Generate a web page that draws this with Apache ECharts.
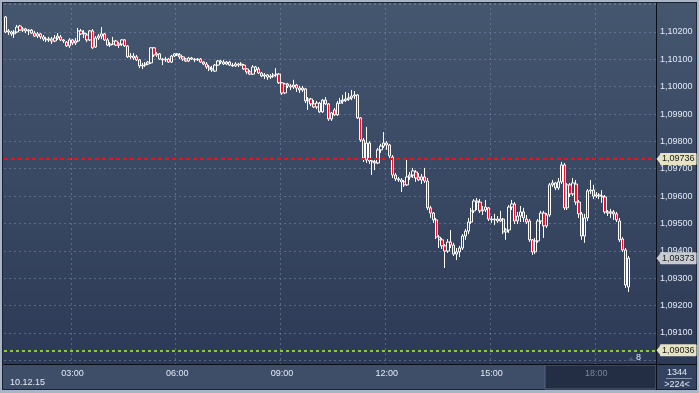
<!DOCTYPE html>
<html><head><meta charset="utf-8">
<script src="https://cdn.jsdelivr.net/npm/echarts@6/dist/echarts.min.js"></script>
<style>html,body{margin:0;padding:0;background:#a9b5c7;}#c{width:699px;height:393px;}</style>
</head><body><div id="c"></div><script>
// ---- data ----
const sessionDate = '10.12.15';
const firstBarMinutes = 65;      // 01:05
const barStepMinutes = 5;
const barSlots = 224;            // visible bar slots (>224<)
const barCountLabel = '1344';
const hourTicks = ['03:00','06:00','09:00','12:00','15:00','18:00'];
const redLevel = 1.09736;
const greenLevel = 1.09036;
const lastPrice = 1.09373;
const yMin = 1.08986, yMax = 1.10306;
const labelRange = [1.0905, 1.1025];

// [open, close, low, high]
const ohlcA = [
[1.10255,1.10200,1.10196,1.10258],[1.10200,1.10204,1.10189,1.10211],[1.10200,1.10193,1.10185,1.10204],[1.10193,1.10200,1.10178,1.10207],
[1.10200,1.10218,1.10196,1.10226],[1.10222,1.10207,1.10204,1.10226],[1.10207,1.10211,1.10200,1.10218],[1.10211,1.10204,1.10196,1.10215],
[1.10204,1.10207,1.10189,1.10211],[1.10207,1.10196,1.10193,1.10211],[1.10196,1.10185,1.10182,1.10204],[1.10185,1.10193,1.10178,1.10200],
[1.10193,1.10182,1.10174,1.10196],[1.10182,1.10174,1.10167,1.10189],[1.10174,1.10171,1.10163,1.10182],[1.10171,1.10174,1.10163,1.10182],
[1.10174,1.10167,1.10156,1.10182],[1.10167,1.10178,1.10163,1.10189],[1.10178,1.10185,1.10171,1.10196],[1.10182,1.10171,1.10167,1.10189],
[1.10171,1.10167,1.10160,1.10174],[1.10163,1.10149,1.10145,1.10167],[1.10149,1.10171,1.10142,1.10178],[1.10171,1.10160,1.10152,1.10174],
[1.10160,1.10167,1.10152,1.10178],[1.10167,1.10204,1.10163,1.10215],[1.10204,1.10193,1.10189,1.10211],[1.10193,1.10196,1.10178,1.10207],
[1.10189,1.10171,1.10163,1.10196],[1.10171,1.10204,1.10167,1.10207],[1.10204,1.10142,1.10138,1.10211],[1.10145,1.10178,1.10142,1.10185],
[1.10178,1.10185,1.10171,1.10193],[1.10185,1.10193,1.10174,1.10218],[1.10193,1.10171,1.10167,1.10196],[1.10171,1.10152,1.10149,1.10178],
[1.10152,1.10156,1.10145,1.10163],[1.10156,1.10167,1.10152,1.10182],[1.10167,1.10152,1.10149,1.10171],[1.10152,1.10156,1.10142,1.10163],
[1.10156,1.10171,1.10149,1.10174],[1.10171,1.10149,1.10145,1.10174],[1.10149,1.10109,1.10105,1.10152],[1.10109,1.10112,1.10101,1.10123],
[1.10112,1.10105,1.10098,1.10123],[1.10109,1.10098,1.10094,1.10116],[1.10098,1.10076,1.10068,1.10101],[1.10076,1.10079,1.10065,1.10087],
[1.10079,1.10083,1.10072,1.10090],[1.10083,1.10090,1.10079,1.10094]
];
const ohlcB = [
[1.10087,1.10142,1.10083,1.10145],[1.10142,1.10116,1.10109,1.10145],[1.10116,1.10120,1.10109,1.10127],[1.10120,1.10101,1.10098,1.10123],
[1.10101,1.10098,1.10079,1.10105],[1.10098,1.10101,1.10090,1.10109],[1.10101,1.10090,1.10087,1.10105],[1.10090,1.10112,1.10087,1.10116],
[1.10112,1.10120,1.10109,1.10123],[1.10120,1.10116,1.10112,1.10123],[1.10116,1.10109,1.10101,1.10123],[1.10109,1.10101,1.10094,1.10112],
[1.10101,1.10094,1.10090,1.10105],[1.10094,1.10105,1.10090,1.10109],[1.10105,1.10101,1.10098,1.10109],[1.10101,1.10098,1.10090,1.10105],
[1.10098,1.10101,1.10094,1.10105],[1.10101,1.10090,1.10087,1.10105],[1.10090,1.10083,1.10079,1.10094],[1.10083,1.10072,1.10065,1.10090],
[1.10072,1.10065,1.10057,1.10079],[1.10065,1.10061,1.10054,1.10076],[1.10057,1.10079,1.10054,1.10083],[1.10079,1.10094,1.10076,1.10098],
[1.10094,1.10090,1.10083,1.10098],[1.10090,1.10083,1.10079,1.10098],[1.10083,1.10090,1.10079,1.10094],[1.10090,1.10079,1.10076,1.10094],
[1.10079,1.10076,1.10072,1.10087],[1.10076,1.10083,1.10072,1.10090],[1.10083,1.10079,1.10072,1.10087],[1.10079,1.10083,1.10076,1.10090],
[1.10079,1.10065,1.10061,1.10083],[1.10065,1.10054,1.10046,1.10068],[1.10054,1.10046,1.10043,1.10061],[1.10046,1.10072,1.10043,1.10079],
[1.10072,1.10061,1.10054,1.10076],[1.10065,1.10050,1.10046,1.10072],[1.10050,1.10039,1.10035,1.10054],[1.10039,1.10043,1.10028,1.10050],
[1.10043,1.10035,1.10025,1.10046],[1.10035,1.10039,1.10028,1.10046],[1.10039,1.10043,1.10032,1.10050],[1.10043,1.10046,1.10035,1.10068],
[1.10046,1.10014,1.10010,1.10050],[1.10014,1.09977,1.09970,1.10017],[1.09977,1.10010,1.09973,1.10014],[1.10010,1.10003,1.09995,1.10014],
[1.10003,1.09999,1.09988,1.10010],[1.09999,1.10006,1.09992,1.10025]
];
const ohlcC = [
[1.10006,1.09995,1.09981,1.10010],[1.09995,1.09988,1.09977,1.10003],[1.09988,1.09995,1.09981,1.10003],[1.09992,1.09948,1.09940,1.09995],
[1.09948,1.09955,1.09915,1.09962],[1.09955,1.09937,1.09929,1.09959],[1.09937,1.09926,1.09922,1.09951],[1.09926,1.09940,1.09918,1.09948],
[1.09940,1.09908,1.09904,1.09944],[1.09908,1.09951,1.09904,1.09955],[1.09951,1.09937,1.09933,1.09962],[1.09937,1.09882,1.09875,1.09940],
[1.09882,1.09904,1.09875,1.09908],[1.09915,1.09897,1.09893,1.09922],[1.09897,1.09940,1.09893,1.09948],[1.09940,1.09948,1.09937,1.09959],
[1.09948,1.09951,1.09937,1.09970],[1.09951,1.09955,1.09944,1.09981],[1.09955,1.09959,1.09948,1.09977],[1.09959,1.09966,1.09951,1.09988],
[1.09966,1.09970,1.09955,1.09984],[1.09970,1.09886,1.09882,1.09973],[1.09886,1.09805,1.09798,1.09889],[1.09805,1.09739,1.09725,1.09812],
[1.09732,1.09794,1.09721,1.09853],[1.09794,1.09728,1.09717,1.09801],[1.09728,1.09725,1.09677,1.09739],[1.09725,1.09721,1.09695,1.09732],
[1.09721,1.09769,1.09717,1.09776],[1.09769,1.09783,1.09758,1.09791],[1.09783,1.09794,1.09776,1.09834],[1.09794,1.09787,1.09769,1.09801],
[1.09787,1.09747,1.09739,1.09791],[1.09743,1.09677,1.09666,1.09750],[1.09677,1.09663,1.09655,1.09684],[1.09663,1.09659,1.09652,1.09670],
[1.09659,1.09652,1.09615,1.09666],[1.09652,1.09641,1.09633,1.09659],[1.09641,1.09670,1.09637,1.09739],[1.09670,1.09677,1.09659,1.09688],
[1.09677,1.09692,1.09666,1.09703],[1.09688,1.09666,1.09652,1.09695],[1.09670,1.09659,1.09655,1.09684],[1.09659,1.09670,1.09644,1.09681],
[1.09670,1.09655,1.09648,1.09703],[1.09655,1.09557,1.09549,1.09666],[1.09557,1.09538,1.09520,1.09564],[1.09538,1.09513,1.09502,1.09542],
[1.09513,1.09450,1.09443,1.09520],[1.09450,1.09440,1.09410,1.09458]
];
const ohlcD = [
[1.09440,1.09418,1.09407,1.09447],[1.09418,1.09399,1.09337,1.09425],[1.09399,1.09432,1.09392,1.09443],[1.09432,1.09421,1.09410,1.09476],
[1.09421,1.09388,1.09381,1.09429],[1.09388,1.09396,1.09366,1.09410],[1.09396,1.09410,1.09377,1.09418],[1.09410,1.09454,1.09403,1.09461],
[1.09454,1.09472,1.09440,1.09480],[1.09472,1.09505,1.09461,1.09520],[1.09505,1.09546,1.09498,1.09557],[1.09546,1.09582,1.09538,1.09589],
[1.09582,1.09578,1.09549,1.09593],[1.09578,1.09546,1.09538,1.09589],[1.09546,1.09549,1.09531,1.09564],[1.09549,1.09560,1.09542,1.09586],
[1.09557,1.09516,1.09509,1.09560],[1.09516,1.09513,1.09502,1.09527],[1.09513,1.09516,1.09494,1.09535],[1.09516,1.09509,1.09502,1.09527],
[1.09509,1.09516,1.09505,1.09546],[1.09516,1.09469,1.09461,1.09520],[1.09469,1.09476,1.09440,1.09483],[1.09476,1.09560,1.09465,1.09567],
[1.09560,1.09571,1.09549,1.09586],[1.09571,1.09509,1.09498,1.09578],[1.09509,1.09527,1.09498,1.09542],[1.09527,1.09542,1.09505,1.09564],
[1.09542,1.09520,1.09505,1.09557],[1.09516,1.09505,1.09498,1.09531],[1.09509,1.09440,1.09432,1.09516],[1.09440,1.09396,1.09385,1.09443],
[1.09396,1.09436,1.09388,1.09447],[1.09436,1.09509,1.09429,1.09516],[1.09509,1.09538,1.09498,1.09546],[1.09538,1.09491,1.09447,1.09546],
[1.09491,1.09531,1.09483,1.09538],[1.09531,1.09641,1.09524,1.09648],[1.09641,1.09648,1.09633,1.09659],[1.09648,1.09630,1.09622,1.09652],
[1.09630,1.09652,1.09622,1.09666],[1.09652,1.09714,1.09644,1.09725],[1.09714,1.09557,1.09549,1.09721],[1.09557,1.09641,1.09549,1.09648],
[1.09641,1.09608,1.09597,1.09648],[1.09608,1.09648,1.09600,1.09666],[1.09644,1.09578,1.09567,1.09659],[1.09578,1.09535,1.09520,1.09586],
[1.09535,1.09454,1.09440,1.09542],[1.09454,1.09520,1.09429,1.09535],[1.09520,1.09619,1.09509,1.09626],[1.09619,1.09622,1.09608,1.09659],
[1.09622,1.09600,1.09589,1.09641],[1.09600,1.09604,1.09593,1.09615],[1.09604,1.09600,1.09589,1.09611],[1.09600,1.09597,1.09575,1.09622],
[1.09597,1.09542,1.09535,1.09604],[1.09542,1.09538,1.09527,1.09549],[1.09538,1.09542,1.09520,1.09553],[1.09542,1.09535,1.09513,1.09549],
[1.09535,1.09513,1.09505,1.09542],[1.09509,1.09440,1.09432,1.09520],[1.09443,1.09403,1.09396,1.09450],[1.09403,1.09275,1.09264,1.09410],
[1.09268,1.09373,1.09249,1.09381]
];
const ohlc = ohlcA.concat(ohlcB, ohlcC, ohlcD);

const categories = [];
for (let i = 0; i < barSlots; i++) {
  const m = firstBarMinutes + i * barStepMinutes;
  categories.push(String(Math.floor(m / 60)).padStart(2, '0') + ':' + String(m % 60).padStart(2, '0'));
}

// ---- chart ----
const FONT = 'Liberation Sans, Arial, sans-serif';
const fmt = v => v.toFixed(5).replace('.', ',');
const isHour = (idx, val) => hourTicks.indexOf(val) >= 0;
const chart = echarts.init(document.getElementById('c'), null, {renderer: 'canvas'});

function tag(value, bg) {
  return {
    show: true, position: 'end', distance: 4, formatter: fmt(value),
    backgroundColor: bg, color: '#1b1b1b', fontSize: 9, fontFamily: FONT,
    padding: [2, 2, 1, 2], borderRadius: 1
  };
}

chart.setOption({
  animation: false,
  backgroundColor: '#a9b5c7',
  grid: {left: 4, right: 43, top: 3, bottom: 29, containLabel: false},
  xAxis: {
    type: 'category', data: categories, boundaryGap: true,
    axisLine: {show: true, lineStyle: {color: '#0a0e16', width: 1}},
    axisTick: {show: false},
    axisLabel: {interval: isHour, margin: 5, fontSize: 9, fontFamily: FONT,
      color: v => v === '18:00' ? '#7d889c' : '#e4eaf4'},
    splitLine: {show: true, interval: isHour, lineStyle: {color: 'rgba(120,140,172,0.55)', type: [2, 3], width: 1}}
  },
  yAxis: {
    type: 'value', position: 'right', min: yMin, max: yMax, scale: true,
    minInterval: 0.001, maxInterval: 0.001, splitNumber: 13,
    axisLine: {show: true, lineStyle: {color: '#0a0e16', width: 1}},
    axisTick: {show: false},
    axisLabel: {margin: 4, fontSize: 9, fontFamily: FONT, color: '#e4eaf4',
      showMinLabel: false, showMaxLabel: false,
      formatter: v => (v > labelRange[0] && v < labelRange[1]) ? fmt(v) : ''},
    splitLine: {show: true, lineStyle: {color: 'rgba(120,140,172,0.55)', type: [2, 3], width: 1}}
  },
  graphic: [
    {type: 'rect', z: -20, shape: {x: 2, y: 2, width: 695, height: 388}, style: {fill: '#1a2233'}},
    {type: 'rect', z: -19, shape: {x: 3, y: 3, width: 693, height: 386},
      style: {fill: {type: 'linear', x: 0, y: 0, x2: 0, y2: 1, colorStops: [{offset: 0, color: '#45566f'}, {offset: 1, color: '#2b3855'}]}}},
    {type: 'rect', z: -18, shape: {x: 3, y: 365, width: 653, height: 24}, style: {fill: '#3e4e69'}},
    {type: 'rect', z: -17, shape: {x: 545, y: 365, width: 111, height: 24}, style: {fill: '#232d44', stroke: '#56657f', lineWidth: 1}},
    {type: 'rect', z: -18, shape: {x: 657, y: 365, width: 39, height: 24}, style: {fill: '#33425e'}},
    {type: 'line', z: 5, shape: {x1: 656, y1: 364.5, x2: 697, y2: 364.5}, style: {stroke: '#0a0e16', lineWidth: 1}},
    {type: 'line', z: 5, shape: {x1: 656.5, y1: 364, x2: 656.5, y2: 390}, style: {stroke: '#0a0e16', lineWidth: 1}},
    {type: 'text', z: 10, style: {x: 10, y: 378, text: sessionDate, fill: '#e4eaf4', fontSize: 9, fontFamily: FONT}},
    {type: 'text', z: 10, style: {x: 677, y: 368, text: barCountLabel, fill: '#e4eaf4', fontSize: 9, fontFamily: FONT, align: 'center'}},
    {type: 'line', z: 10, shape: {x1: 666, y1: 378.5, x2: 692, y2: 378.5}, style: {stroke: '#8a96aa', lineWidth: 1}},
    {type: 'text', z: 10, style: {x: 677, y: 380, text: '>' + barSlots + '<', fill: '#e4eaf4', fontSize: 9, fontFamily: FONT, align: 'center'}},
    {type: 'text', z: 10, style: {x: 636, y: 353, text: '8', fill: '#e4eaf4', fontSize: 9, fontFamily: FONT}},
    {type: 'polygon', z: 10, shape: {points: [[628, 361], [631, 357], [634, 361]]}, style: {fill: '#4d5c77'}}
  ],
  series: [{
    type: 'candlestick', data: ohlc, barWidth: 2.8,
    itemStyle: {color: 'transparent', color0: '#ff0a28', borderColor: '#ffffff', borderColor0: '#ffffff', borderWidth: 1}
  }, {
    type: 'line', data: [], silent: true, symbol: 'none', z: 4,
    markLine: {
      symbol: 'none', silent: true, animation: false, precision: 5,
      data: [
        {yAxis: redLevel, lineStyle: {color: '#e8141e', type: [4, 3], width: 2}, label: tag(redLevel, '#e6e3c3')},
        {yAxis: greenLevel, lineStyle: {color: '#8dc63f', type: [3, 3], width: 2}, label: tag(greenLevel, '#e6e3c3')},
        {yAxis: lastPrice, lineStyle: {color: 'rgba(0,0,0,0)', width: 0}, label: tag(lastPrice, '#c8ccd2')}
      ]
    }
  }]
});

// little pointers of the price tags, placed through the y scale and the grid edge
const gridRect = chart.getModel().getComponent('grid', 0).coordinateSystem.getRect();
const edgeX = gridRect.x + gridRect.width;
const arrows = [[redLevel, '#e6e3c3'], [greenLevel, '#e6e3c3'], [lastPrice, '#c8ccd2']].map(([v, c], k) => {
  const y = chart.convertToPixel({yAxisIndex: 0}, v);
  return {type: 'polygon', id: 'arr' + k, z: 30, zlevel: 1,
    shape: {points: [[edgeX + 0.5, y], [edgeX + 4.5, y - 5], [edgeX + 4.5, y + 5]]}, style: {fill: c}};
});
chart.setOption({graphic: arrows});
</script></body></html>
